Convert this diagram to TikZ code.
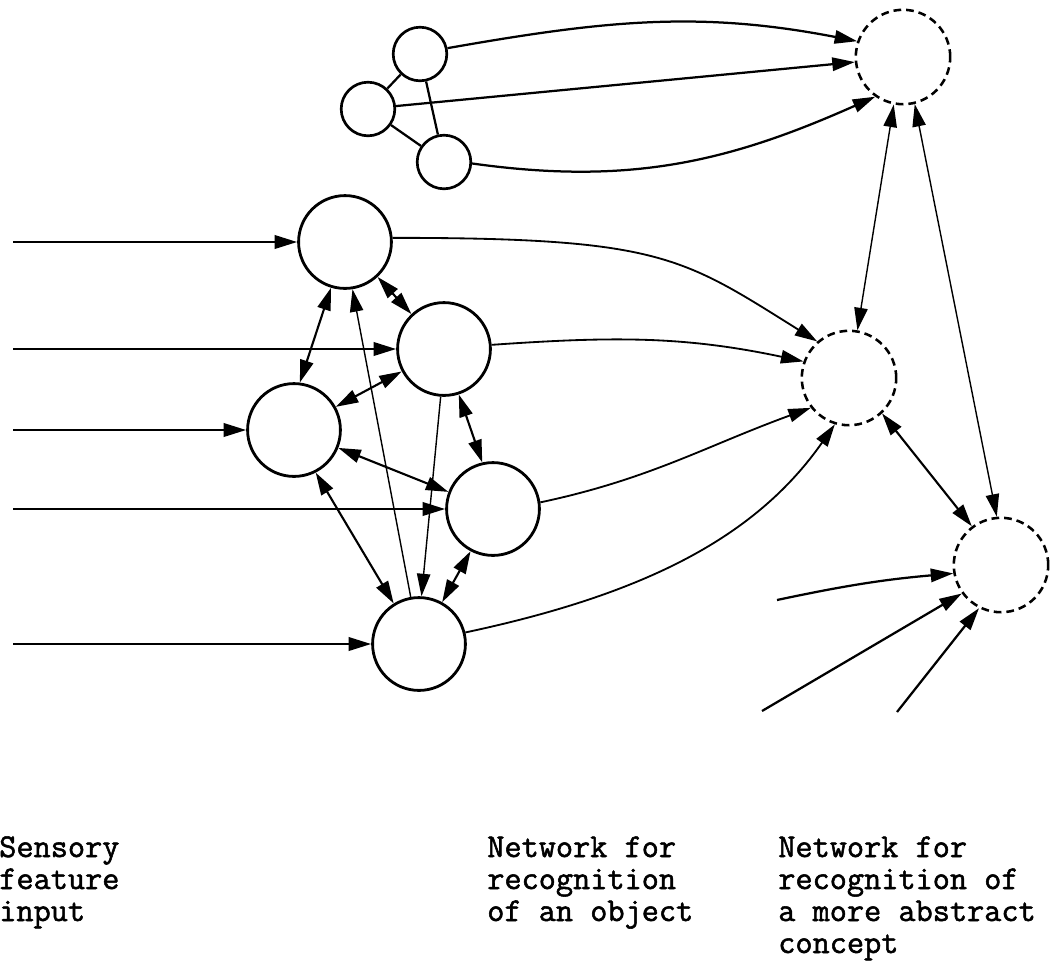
\documentclass[tikz,border=0pt]{standalone}
\usepackage{fontspec}
\newfontfamily\captionfont{lmmono12-regular.otf}[FakeBold=1.6]
\usetikzlibrary{arrows.meta}
\begin{document}
\begin{tikzpicture}[x=0.025cm, y=-0.025cm,
  unit/.style={circle, draw, line width=2pt, inner sep=0pt, minimum size=2.32cm},
  small/.style={circle, draw, line width=1.9pt, inner sep=0pt, minimum size=1.34cm},
  concept/.style={circle, draw, line width=1.8pt, dash pattern=on 5.5pt off 3.5pt, inner sep=0pt, minimum size=2.36cm},
  tip/.tip={Triangle[length=16pt, width=9.5pt]},
  link/.style={line width=1.6pt},
  fwd/.style={line width=1.6pt, -tip},
  both/.style={line width=1.5pt, tip-tip},
  faint/.style={line width=1.0pt},
  caption/.style={font=\captionfont\fontsize{23.7}{22.75}\selectfont, align=left, anchor=base west, inner sep=0pt}
]
\useasboundingbox (0,0) rectangle (1052,969);

% small cluster at the top
\node[small] (T1) at (420,54) {};
\node[small] (T2) at (368,109) {};
\node[small] (T3) at (444,162) {};

% object-recognition network
\node[unit] (M1) at (345,242) {};
\node[unit] (M2) at (444,349) {};
\node[unit] (M3) at (294,430) {};
\node[unit] (M4) at (493,509) {};
\node[unit] (M5) at (419,644) {};

% abstract-concept units
\node[concept] (A1) at (903,57) {};
\node[concept] (A2) at (849,378) {};
\node[concept] (A3) at (1001,565) {};

% loose ends of the input lines
\coordinate (s1) at (13,242);
\coordinate (s2) at (13,349);
\coordinate (s3) at (13,430);
\coordinate (s4) at (13,509);
\coordinate (s5) at (13,644);
\coordinate (c1) at (777,600);
\coordinate (c2) at (762,711);
\coordinate (c3) at (897,712);

% sensory feature inputs
\draw[fwd, line width=1.8pt] (s1) -- (M1);
\draw[fwd, line width=1.8pt] (s2) -- (M2);
\draw[fwd, line width=1.8pt] (s3) -- (M3);
\draw[fwd, line width=1.8pt] (s4) -- (M4);
\draw[fwd, line width=1.8pt] (s5) -- (M5);

% links inside the top cluster
\draw[link] (T1) -- (T2);
\draw[link] (T1) -- (T3);
\draw[link] (T2) -- (T3);

% links inside the object network
\draw[both] (M1.-107) -- (M3.83);
\draw[both] (M1.-47) -- (M2.133);
\draw[both] (M2.-152) -- (M3.29);
\draw[both] (M2.-72) -- (M4.103);
\draw[both] (M3.-22) -- (M4.159);
\draw[both] (M3.-63) -- (M5.122);
\draw[both] (M4.-118) -- (M5.61);
\draw[fwd, faint] (M5.100) -- (M1.-81);
\draw[fwd, faint] (M2.-94) -- (M5.87);

% top cluster to the first concept unit
\draw[fwd] (T1.12) to[out=10, in=169] (A1.161);
\draw[fwd] (T2.6) -- (A1.-174);
\draw[fwd] (T3.-3) to[out=-8, in=204] (A1.-125);

% object network to the middle concept unit
\draw[fwd, line width=1.3pt] (M1.5) to[out=0, in=148, out distance=6.7cm, in distance=4cm] (A2.131);
\draw[fwd, line width=1.3pt] (M2.5) to[out=4, in=168] (A2.160);
\draw[fwd, line width=1.3pt] (M4.8) to[out=12, in=200] (A2.-142);
\draw[fwd, line width=1.3pt] (M5.14) to[out=12, in=235, out distance=4.68cm, in distance=3.39cm] (A2.-107);

% links between concept units
\draw[both, faint] (A1.-101) -- (A2.80);
\draw[both, faint] (A1.-76) -- (A3.95);
\draw[both] (A2.-47) -- (A3.127);

% further inputs to the lower concept unit
\draw[fwd] (c1) to[out=12, in=185] (A3.-170);
\draw[fwd] (c2) -- (A3.-144);
\draw[fwd] (c3) -- (A3.-117);

% column captions (placed by the baseline of their last line)
\node[caption] (cap1) at (-1,921) {Sensory\\feature\\input};
\node[caption] (cap2) at (487,921) {Network for\\recognition\\of an object};
\node[caption] (cap3) at (778,953) {Network for\\recognition of\\a more abstract\\concept};
\end{tikzpicture}
\end{document}
